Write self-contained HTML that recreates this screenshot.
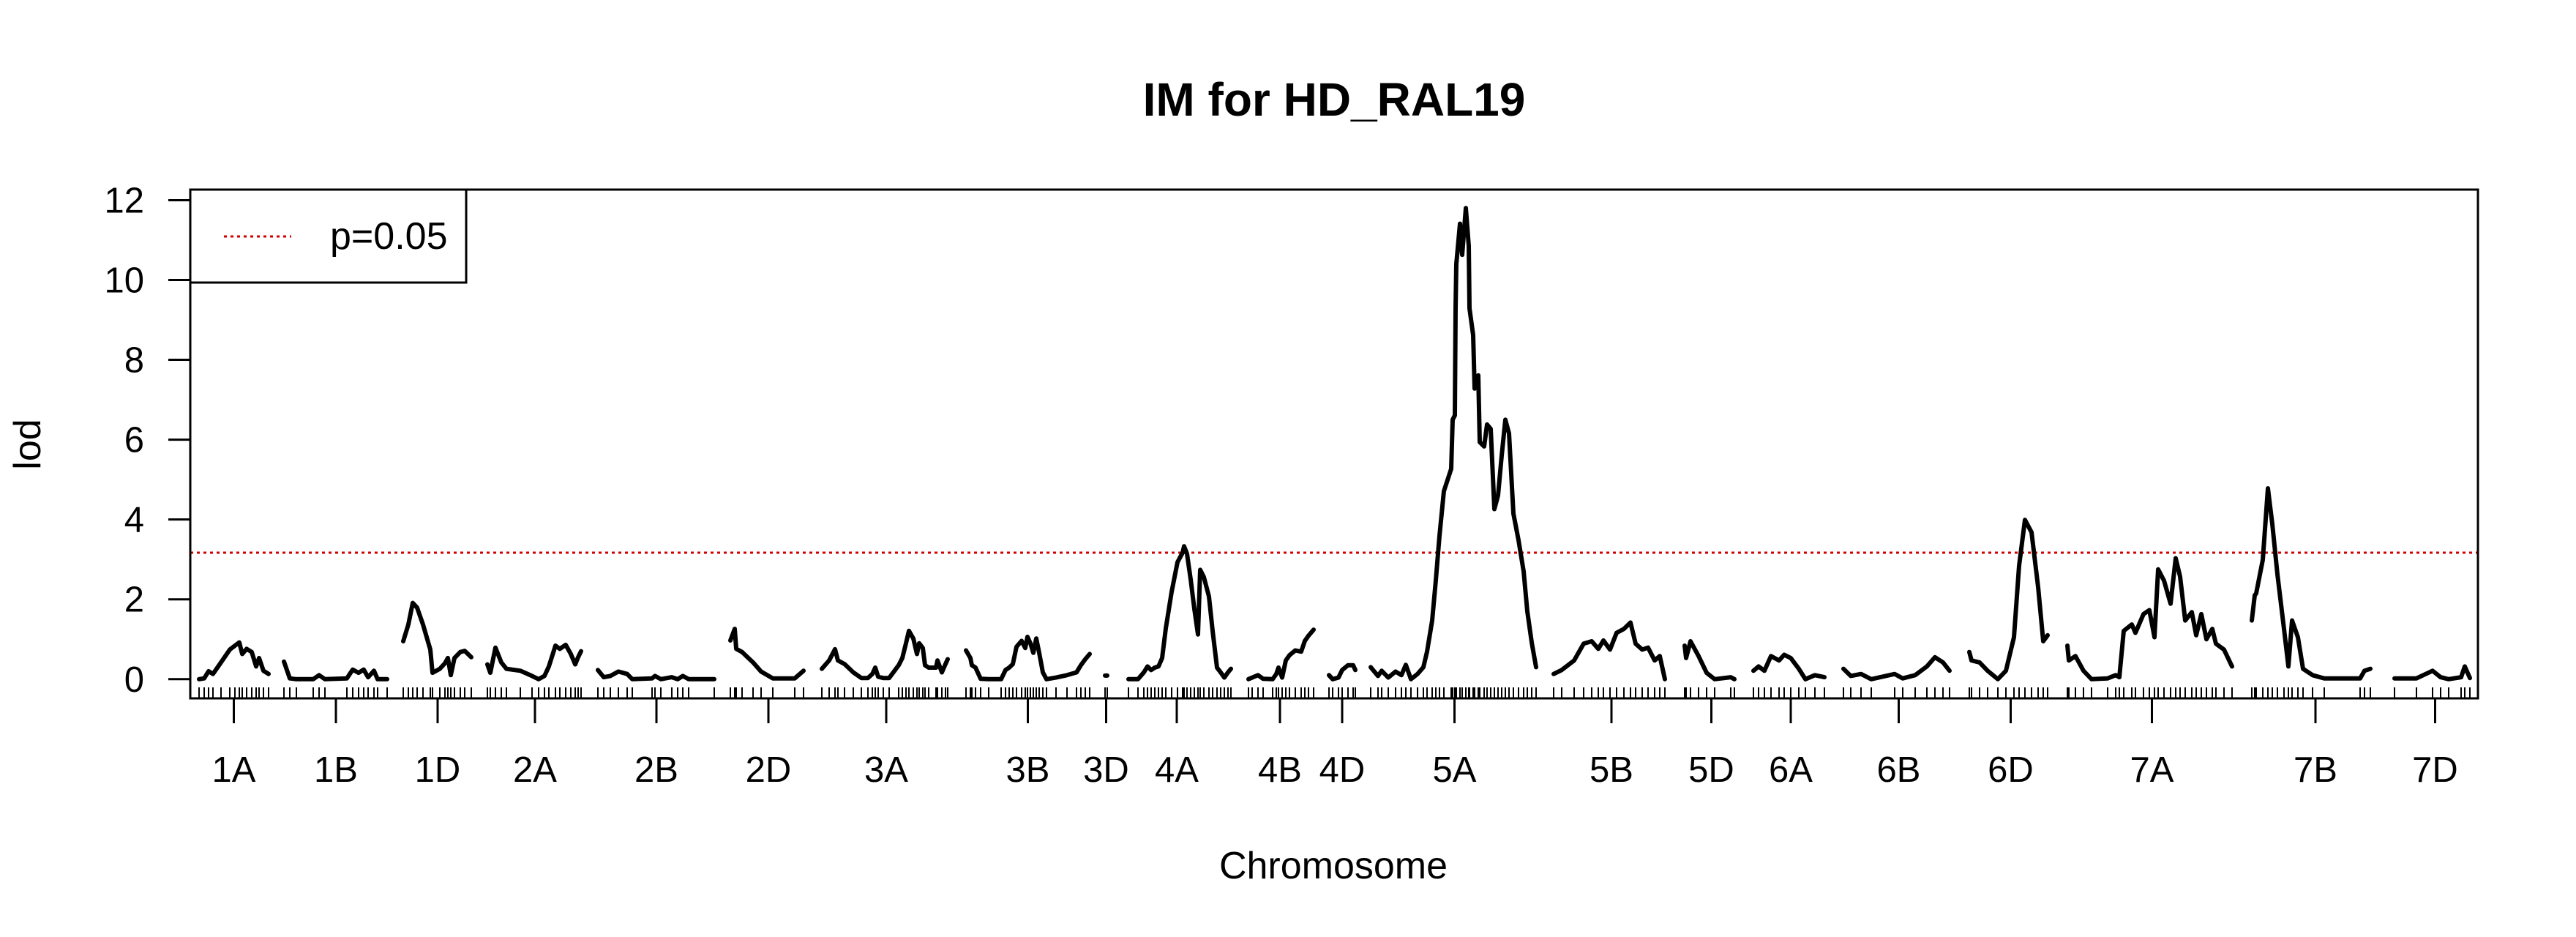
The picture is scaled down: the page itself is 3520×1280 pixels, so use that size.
<!DOCTYPE html>
<html><head><meta charset="utf-8"><style>
html,body{margin:0;padding:0;background:#fff;}
svg{display:block;font-family:"Liberation Sans",Arial,sans-serif;}
</style></head><body>
<svg id="chart" width="3520" height="1280" viewBox="0 0 3520 1280" xmlns="http://www.w3.org/2000/svg">
<rect x="0" y="0" width="3520" height="1280" fill="#fff"/>
<text x="1823" y="158" text-anchor="middle" font-size="64" font-weight="bold">IM for HD_RAL19</text>
<text x="0" y="0" transform="translate(55,607) rotate(-90)" text-anchor="middle" font-size="52">lod</text>
<text x="1822" y="1200" text-anchor="middle" font-size="52">Chromosome</text>
<g id="marks"></g>
<rect x="260" y="259" width="3126" height="695" fill="none" stroke="#000" stroke-width="3"/>
<g>
<rect x="260" y="259" width="377" height="127" fill="#fff" stroke="#000" stroke-width="3"/>
<line x1="306" y1="323" x2="398" y2="323" stroke="#d00000" stroke-width="3" stroke-dasharray="4,5"/>
<text x="451" y="340" font-size="52">p=0.05</text>
</g>
</svg>
<script>
const chrNames = ["1A","1B","1D","2A","2B","2D","3A","3B","3D","4A","4B","4D","5A","5B","5D","6A","6B","6D","7A","7B","7D"];
const chrLengths = [95,142,94,130,160,104,176,169,3,148,92,36,229,158,73,102,151,113,231,174,111];
const lodPositions = [
[0,7,13,19,30,42,49,55,59,65,72,78,82,88,95],
[0,8,17,40,48,56,86,94,102,109,115,123,128,141],
[0,7,13,19,27,37,40,50,57,61,65,70,78,84,93],
[0,4,11,19,26,45,61,70,78,84,93,99,107,114,120,124,128],
[0,8,17,28,40,47,74,78,86,101,109,116,124,159],
[0,6,8,16,31,42,58,88,100],
[0,10,18,22,31,43,54,63,69,73,77,84,92,105,110,115,119,125,130,133,138,141,146,156,158,164,169,172],
[0,6,8,13,20,31,48,54,59,64,69,76,81,84,88,92,96,100,105,110,123,138,151,157,163,169],
[0,3],
[8,21,29,34,39,44,49,54,59,67,75,82,84,88,93,98,103,106,111,118,123,129,134,139,144,148],
[3,8,16,23,36,41,44,49,54,59,67,75,80,85,92],
[0,5,13,18,26,33,36],
[0,10,15,24,34,42,48,55,64,72,77,84,89,94,100,110,112,115,116,117,122,125,130,134,135,140,142,147,149,155,159,164,169,174,179,184,189,195,202,209,214,220,226],
[0,11,28,41,52,61,68,77,86,96,105,112,121,129,138,145,152],
[0,2,8,19,30,41,63,68],
[0,7,15,24,35,42,51,62,71,84,97],
[0,10,24,38,70,81,98,114,125,136,145],
[0,3,14,25,39,50,61,68,76,85,94,101,107],
[0,2,11,22,33,55,66,71,77,88,93,104,112,119,124,132,141,148,154,161,170,176,183,190,198,203,214,225],
[0,4,6,15,22,28,35,44,50,55,63,70,83,99,148,154,162],
[0,30,52,63,74,91,96,103]
];
const lodValues = [
[0,0.02,0.2,0.13,0.42,0.74,0.84,0.92,0.63,0.76,0.68,0.32,0.53,0.21,0.13],
[0.44,0.02,0,0,0.1,0,0.02,0.24,0.16,0.24,0.05,0.21,0,0],
[0.95,1.37,1.91,1.79,1.37,0.74,0.16,0.26,0.4,0.53,0.1,0.53,0.68,0.71,0.55],
[0.37,0.16,0.79,0.42,0.26,0.21,0.08,0,0.08,0.32,0.84,0.76,0.86,0.63,0.37,0.55,0.7],
[0.23,0.05,0.08,0.19,0.13,0,0.02,0.08,0,0.05,0,0.08,0,0],
[0.97,1.26,0.76,0.68,0.42,0.19,0.02,0.02,0.21],
[0.26,0.47,0.75,0.47,0.38,0.17,0.03,0.03,0.13,0.29,0.06,0.03,0.03,0.35,0.53,0.9,1.21,1.02,0.63,0.9,0.78,0.35,0.29,0.29,0.47,0.17,0.38,0.5],
[0.72,0.53,0.35,0.29,0.01,0,0,0.23,0.29,0.38,0.81,0.96,0.78,1.06,0.9,0.66,1.02,0.66,0.17,0,0.04,0.1,0.17,0.35,0.5,0.63],
[0.09,0.09],
[0,0,0.17,0.32,0.23,0.29,0.32,0.53,1.27,2.19,2.93,3.17,3.33,3.14,2.5,1.76,1.12,2.74,2.56,2.07,1.21,0.29,0.17,0.04,0.17,0.26],
[0,0.04,0.1,0.01,0,0.13,0.29,0.04,0.47,0.6,0.72,0.69,0.96,1.09,1.24],
[0.1,0,0.04,0.23,0.35,0.35,0.23],
[0.3,0.08,0.21,0.04,0.19,0.1,0.36,0,0.13,0.3,0.69,1.47,2.48,3.59,4.71,5.27,6.5,6.61,9.29,10.4,11.41,10.63,11.8,10.85,9.29,8.62,7.28,7.61,5.94,5.83,6.38,6.27,4.26,4.6,5.6,6.5,6.16,4.15,3.48,2.7,1.7,0.92,0.3],
[0.13,0.23,0.47,0.89,0.95,0.76,0.97,0.74,1.16,1.26,1.42,0.89,0.74,0.79,0.47,0.58,0],
[0.84,0.53,0.95,0.58,0.16,0,0.05,0],
[0.21,0.32,0.21,0.58,0.47,0.61,0.53,0.26,0,0.1,0.05],
[0.26,0.08,0.13,0,0.13,0.02,0.1,0.32,0.55,0.42,0.21],
[0.68,0.47,0.42,0.21,0,0.21,1.05,2.84,3.99,3.68,2.31,0.95,1.1],
[0.84,0.47,0.58,0.21,0,0.02,0.1,0.05,1.21,1.37,1.16,1.63,1.73,1.05,2.75,2.47,1.89,3.03,2.57,1.47,1.68,1.1,1.63,1.0,1.26,0.89,0.74,0.32],
[1.47,2.1,2.15,2.99,4.78,3.89,2.63,1.26,0.32,1.47,1.05,0.26,0.1,0.02,0.02,0.21,0.26],
[0.02,0.02,0.21,0.05,0,0.05,0.32,0.03]
];
const yTicks = [0,2,4,6,8,10,12];
const thresholdValue = 3.17;
const chrGap = 21;

const NS = "http://www.w3.org/2000/svg";
const plot = {left:260, right:3386, top:259, bottom:954};
const yScale = v => 927.8 - v * 54.53;
const xDomain = [-12, 3114];
const xScale = g => plot.left + (g - xDomain[0]) / (xDomain[1] - xDomain[0]) * (plot.right - plot.left);
const marks = document.getElementById('marks');
function mk(tag, attrs, parent){
  const el = document.createElementNS(NS, tag);
  for (const k in attrs) el.setAttribute(k, attrs[k]);
  (parent || marks).appendChild(el);
  return el;
}
const starts = [];
let acc = 0;
chrLengths.forEach((L,i)=>{ starts.push(acc); acc += L + chrGap; });

yTicks.forEach(t=>{
  const y = yScale(t);
  const tk = mk('line',{x1:230,y1:y,x2:plot.left,y2:y,stroke:'#000','stroke-width':3});
  
  
  const lb = mk('text',{x:197,y:y+17,'text-anchor':'end','font-size':49});
  
  
  lb.textContent = t;
});

const th = mk('line',{x1:plot.left,x2:plot.right,y1:yScale(thresholdValue),y2:yScale(thresholdValue),stroke:'#d00000','stroke-width':3,'stroke-dasharray':'4,5'});



chrNames.forEach((name,i)=>{
  const s = starts[i];
  const mid = xScale(s + chrLengths[i]/2);
  const tk = mk('line',{x1:mid,x2:mid,y1:plot.bottom,y2:988,stroke:'#000','stroke-width':3});
  
  
  const lb = mk('text',{x:mid,y:1068,'text-anchor':'middle','font-size':49});
  
  
  lb.textContent = name;
  lodPositions[i].forEach(p=>{
    const x = xScale(s + p);
    const r = mk('line',{x1:x,x2:x,y1:939,y2:plot.bottom,stroke:'#000','stroke-width':2});
    
    
  });
  const pts = lodPositions[i].map((p,j)=> xScale(s+p).toFixed(1)+','+yScale(lodValues[i][j]).toFixed(1)).join(' ');
  const pl = mk('polyline',{points:pts,fill:'none',stroke:'#000','stroke-width':6,'stroke-linejoin':'round','stroke-linecap':'round'});
  
  
});
</script>
</body></html>
